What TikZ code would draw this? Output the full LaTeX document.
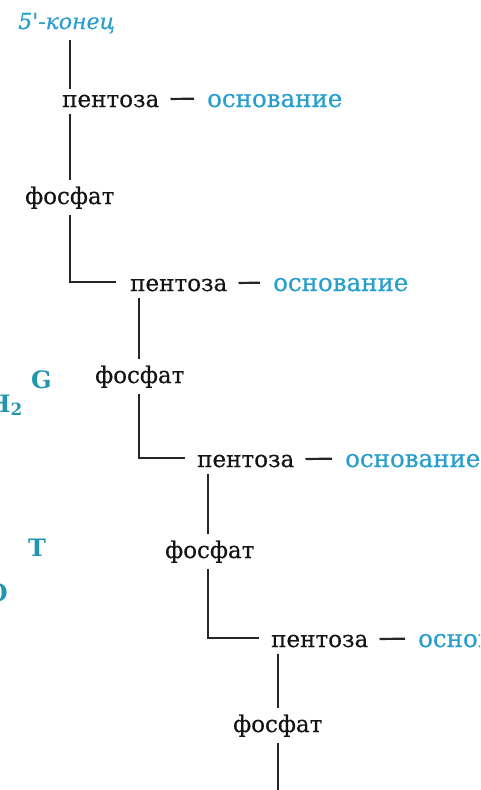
\documentclass[tikz,border=0pt]{standalone}
\usepackage{fontspec}
\setmainfont{DejaVu Serif}
\newfontfamily\heavyserif[FakeBold=0.5]{DejaVu Serif}
\newfontfamily\heavyitalic[FakeBold=0.4]{DejaVu Serif Italic}
\definecolor{cblue}{RGB}{40,158,205}
\definecolor{cteal}{RGB}{35,150,175}
\begin{document}
\begin{tikzpicture}[x=1pt,y=-1pt,
  txt/.style={inner xsep=0pt, inner ysep=6pt, anchor=base west, font=\heavyserif\fontsize{23}{26}\selectfont, text=black!92},
  base/.style={txt, text=cblue, font=\heavyserif\fontsize{24.5}{27}\selectfont},
  endlbl/.style={txt, text=cblue, font=\heavyitalic\fontsize{22}{24}\selectfont},
  side/.style={inner sep=0pt, text=cteal, font=\fontsize{24}{26}\selectfont\bfseries},
  ln/.style={line width=2.2pt, black!85}]
\useasboundingbox (0,0) rectangle (480,790);
\clip (0,0) rectangle (480,790);
% spines
\coordinate (s1) at (70,0);
\coordinate (s2) at (139,0);
\coordinate (s3) at (208,0);
\coordinate (s4) at (278,0);
\coordinate (bot) at (278,795);
% nodes
\node[endlbl] (c5) at (18,29) {5'-конец};
\node[txt] (p1) at (62,107) {пентоза};
\node[base] (b1) at (207,107) {основание};
\node[txt] (f1) at (25,204) {фосфат};
\node[txt] (p2) at (130,291) {пентоза};
\node[base] (b2) at (273,291) {основание};
\node[txt] (f2) at (95,383) {фосфат};
\node[txt] (p3) at (197,467) {пентоза};
\node[base] (b3) at (345,467) {основание};
\node[txt] (f3) at (165,558) {фосфат};
\node[txt] (p4) at (271,647) {пентоза};
\node[base] (b4) at (418,647) {основание};
\node[txt] (f4) at (233,732) {фосфат};
% partial labels at left edge
\node[side, anchor=base west] (g) at (31,388) {G};
\node[side, anchor=base east] (h) at (23,412) {H\textsubscript{2}};
\node[side, anchor=base west] (t) at (28,556) {T};
\node[side, anchor=base east] (o) at (8,601) {O};
% connectors
\draw[ln] (c5.south -| s1) -- (p1.north -| s1);
\draw[ln] (p1.south -| s1) -- (f1.north -| s1);
\draw[ln, shorten >=14pt] (f1.south -| s1) |- ([yshift=3pt]p2.west);
\draw[ln] (p2.south -| s2) -- (f2.north -| s2);
\draw[ln, shorten >=12pt] (f2.south -| s2) |- ([yshift=3pt]p3.west);
\draw[ln] (p3.south -| s3) -- (f3.north -| s3);
\draw[ln, shorten >=12pt] (f3.south -| s3) |- ([yshift=3pt]p4.west);
\draw[ln] (p4.south -| s4) -- (f4.north -| s4);
\draw[ln] (f4.south -| s4) -- (bot);
% dashes to bases
\draw[ln, shorten <=11pt, shorten >=13pt] ([yshift=2pt]p1.east) -- ([yshift=2pt]b1.west);
\draw[ln, shorten <=11pt, shorten >=13pt] ([yshift=2pt]p2.east) -- ([yshift=2pt]b2.west);
\draw[ln, shorten <=11pt, shorten >=13pt] ([yshift=2pt]p3.east) -- ([yshift=2pt]b3.west);
\draw[ln, shorten <=11pt, shorten >=13pt] ([yshift=2pt]p4.east) -- ([yshift=2pt]b4.west);
\end{tikzpicture}
\end{document}
